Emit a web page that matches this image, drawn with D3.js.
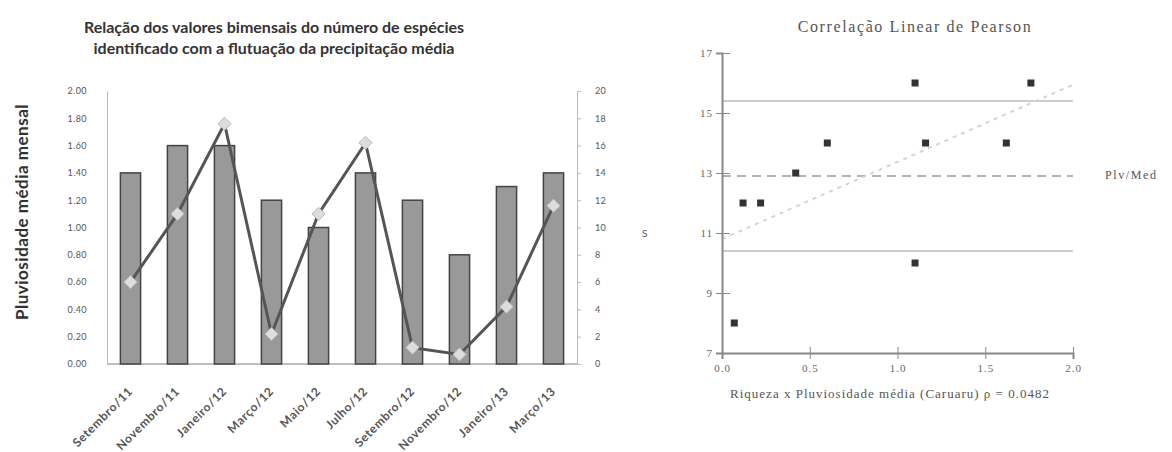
<!DOCTYPE html>
<html>
<head>
<meta charset="utf-8">
<script src="https://cdn.jsdelivr.net/npm/d3@7"></script>
<style>
  body { margin: 0; background: #fff; }
  svg { display: block; }
  .bar-title { font-family: Lato, "Open Sans", sans-serif; font-weight: bold; font-size: 16px; fill: #333; }
  .bar-axis text { font-family: Lato, sans-serif; font-size: 9px; fill: #555; letter-spacing: 0.4px; }
  .xlab { font-family: Lato, sans-serif; font-size: 12px; font-weight: bold; fill: #555; letter-spacing: 0.7px; }
  .serif { font-family: "Liberation Serif", "DejaVu Serif", serif; fill: #555; }
  .sc-axis .domain { fill: none; stroke: #888; stroke-width: 2; }
  .sc-axis line { stroke: #888; }
  .sc-axis text { font-family: "Liberation Serif", serif; font-size: 11px; fill: #666; letter-spacing: 1px; }
</style>
</head>
<body>
<svg class="chart"></svg>
<script>
var months = ["Setembro/11", "Novembro/11", "Janeiro/12", "Março/12", "Maio/12",
              "Julho/12", "Setembro/12", "Novembro/12", "Janeiro/13", "Março/13"]
var especies = [14, 16, 16, 12, 10, 14, 12, 8, 13, 14]
var chuva = [0.60, 1.10, 1.76, 0.22, 1.10, 1.62, 0.12, 0.07, 0.42, 1.16]
var leftTicks = [0, 0.2, 0.4, 0.6, 0.8, 1.0, 1.2, 1.4, 1.6, 1.8, 2.0]
var rightTicks = [0, 2, 4, 6, 8, 10, 12, 14, 16, 18, 20]

var sTicks = [7, 9, 11, 13, 15, 17]
var pTicks = [0, 0.5, 1.0, 1.5, 2.0]
var media = 12.9
var limites = [10.4, 15.4]

var svg = d3.select(".chart")
    .attr("width", 1172)
    .attr("height", 452)

// ---- grafico de barras ----
var x = d3.scaleBand()
    .domain(months)
    .range([107, 577])
    .paddingInner(0.57)
    .paddingOuter(0.285)

var yLeft = d3.scaleLinear().domain([0, 2]).range([364, 91])
var yRight = d3.scaleLinear().domain([0, 20]).range([364, 91])

svg.append("text")
    .attr("class", "bar-title")
    .attr("text-anchor", "middle")
    .selectAll("tspan")
    .data(["Relação dos valores bimensais do número de espécies",
           "identificado com a flutuação da precipitação média"])
    .enter().append("tspan")
    .attr("x", 274)
    .attr("y", (d, i) => 33 + i * 21)
    .text(d => d)

var gl = svg.append("g")
    .attr("class", "bar-axis")
    .attr("transform", "translate(107,0)")
    .call(d3.axisLeft(yLeft).tickValues(leftTicks).tickFormat(d3.format(".2f")).tickSize(0).tickPadding(20))
gl.select(".domain").attr("stroke", "#bbb")

var gr = svg.append("g")
    .attr("class", "bar-axis")
    .attr("transform", "translate(577,0)")
    .call(d3.axisRight(yRight).tickValues(rightTicks).tickSize(4).tickPadding(14))
gr.select(".domain").attr("stroke", "#bbb")
gr.selectAll(".tick line").attr("stroke", "#bbb")

svg.append("line")
    .attr("x1", 107).attr("x2", 577)
    .attr("y1", 364).attr("y2", 364)
    .attr("stroke", "#aaa")
    .attr("stroke-width", 1.5)

svg.append("g").selectAll("rect")
    .data(especies)
    .enter().append("rect")
    .attr("x", (d, i) => x(months[i]))
    .attr("y", d => yRight(d))
    .attr("width", x.bandwidth())
    .attr("height", d => 364 - yRight(d))
    .attr("fill", "#999")
    .attr("stroke", "#444")
    .attr("stroke-width", 1.5)

var line = d3.line()
    .x((d, i) => x(months[i]) + x.bandwidth() / 2)
    .y(d => yLeft(d))

svg.append("path")
    .datum(chuva)
    .attr("d", line)
    .attr("fill", "none")
    .attr("stroke", "#555")
    .attr("stroke-width", 3)

svg.append("g").selectAll("path")
    .data(chuva)
    .enter().append("path")
    .attr("d", d3.symbol().type(d3.symbolDiamond2).size(110))
    .attr("transform", (d, i) => `translate(${x(months[i]) + x.bandwidth() / 2},${yLeft(d)})`)
    .attr("fill", "#ddd")
    .attr("stroke", "#bbb")
    .attr("stroke-width", 1)

svg.append("g").selectAll("text")
    .data(months)
    .enter().append("text")
    .attr("class", "xlab")
    .attr("text-anchor", "end")
    .attr("transform", d => `translate(${x(d) + x.bandwidth() / 2 + 3},392) rotate(-45)`)
    .text(d => d)

svg.append("text")
    .attr("class", "bar-title")
    .style("font-size", "17px")
    .style("letter-spacing", "0.5px")
    .attr("text-anchor", "middle")
    .attr("transform", "translate(28,212) rotate(-90)")
    .text("Pluviosidade média mensal")

svg.append("text")
    .attr("x", 642).attr("y", 237)
    .attr("font-family", "Lato, sans-serif")
    .attr("font-size", 10)
    .attr("fill", "#555")
    .text("S")

// ---- correlacao ----
var px = d3.scaleLinear().domain([0, 2]).range([722, 1073])
var py = d3.scaleLinear().domain([7, 17]).range([353, 53])

svg.append("text")
    .attr("class", "serif")
    .attr("x", 915).attr("y", 32)
    .attr("text-anchor", "middle")
    .attr("font-size", 16)
    .attr("letter-spacing", 1.6)
    .text("Correlação Linear de Pearson")

limites.forEach(v => {
    svg.append("line")
        .attr("x1", px(0)).attr("x2", px(2))
        .attr("y1", py(v)).attr("y2", py(v))
        .attr("stroke", "#ccc")
        .attr("stroke-width", 2)
})

svg.append("line")
    .attr("x1", px(0)).attr("x2", px(2))
    .attr("y1", py(media)).attr("y2", py(media))
    .attr("stroke", "#999")
    .attr("stroke-width", 1.5)
    .attr("stroke-dasharray", "9,6")

// reta de regressao
var mx = d3.mean(chuva), my = d3.mean(especies)
var slope = d3.sum(chuva, (d, i) => (d - mx) * (especies[i] - my)) / d3.sum(chuva, d => (d - mx) * (d - mx))
var b = my - slope * mx
svg.append("line")
    .attr("x1", px(0)).attr("x2", px(2))
    .attr("y1", py(b)).attr("y2", py(b + slope * 2))
    .attr("stroke", "#d4d4d4")
    .attr("stroke-width", 2)
    .attr("stroke-dasharray", "4,5")

var ay = svg.append("g")
    .attr("class", "sc-axis")
    .attr("transform", "translate(722,0)")
    .call(d3.axisLeft(py).tickValues(sTicks).tickFormat(d3.format("d")).tickSize(6).tickPadding(3))
ay.selectAll(".tick line").attr("x2", 8).attr("x1", -6)

var ax = svg.append("g")
    .attr("class", "sc-axis")
    .attr("transform", "translate(0,353)")
    .call(d3.axisBottom(px).tickValues(pTicks).tickFormat(d3.format(".1f")).tickSize(6).tickPadding(5))
ax.selectAll(".tick line").attr("y1", -6).attr("y2", 6)

svg.append("g").selectAll("rect")
    .data(chuva)
    .enter().append("rect")
    .attr("x", d => px(d) - 3.5)
    .attr("y", (d, i) => py(especies[i]) - 3.5)
    .attr("width", 7)
    .attr("height", 7)
    .attr("fill", "#333")

svg.append("text")
    .attr("class", "serif")
    .attr("x", 1105).attr("y", 179)
    .attr("font-size", 12)
    .attr("letter-spacing", 1.6)
    .text("Plv/Med")

svg.append("text")
    .attr("class", "serif")
    .attr("x", 890).attr("y", 398)
    .attr("text-anchor", "middle")
    .attr("font-size", 13)
    .attr("letter-spacing", 1)
    .text("Riqueza x Pluviosidade média (Caruaru)  ρ = 0.0482")
</script>
</body>
</html>
